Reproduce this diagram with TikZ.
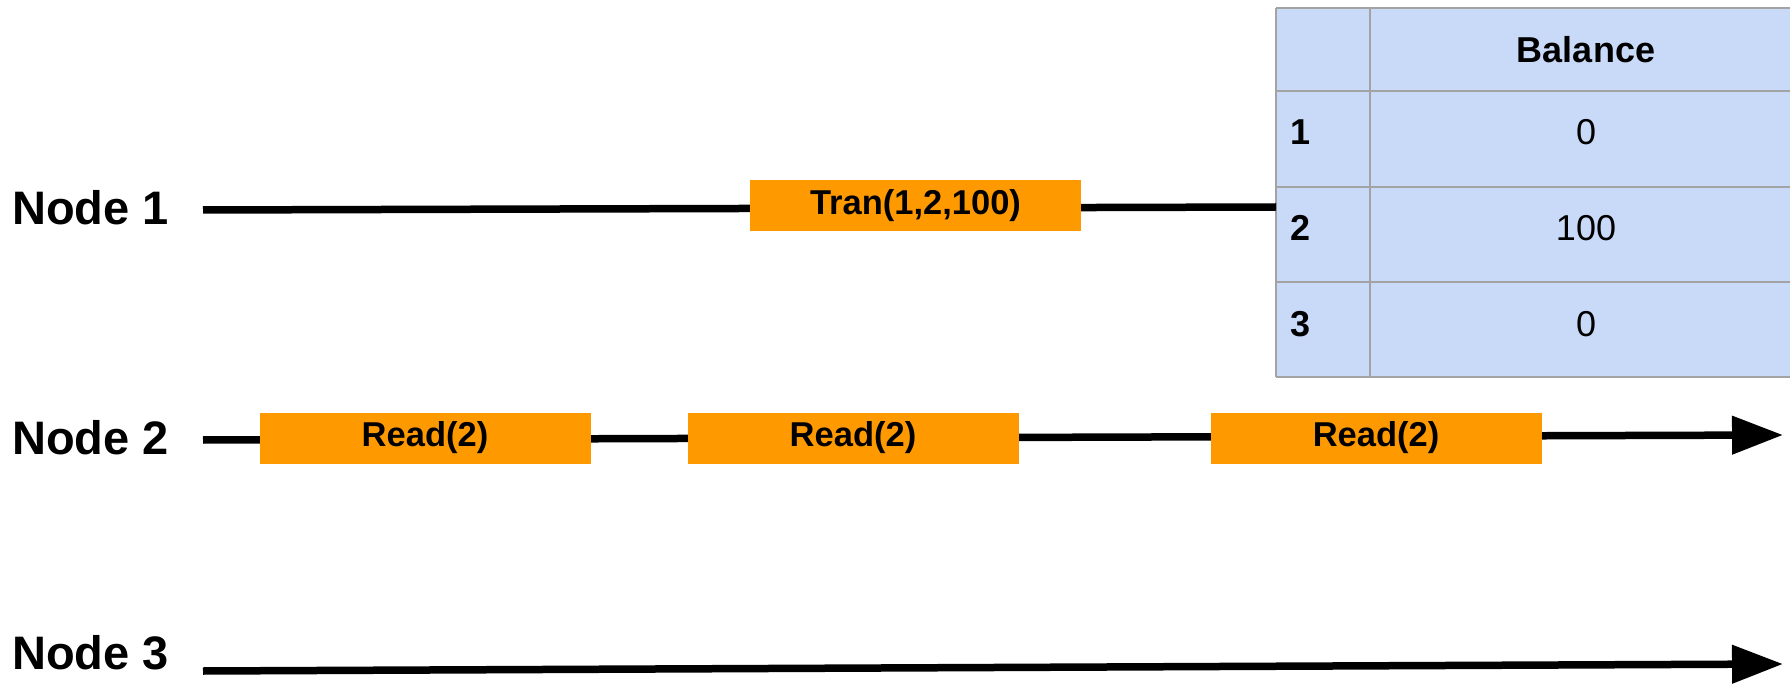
\documentclass[tikz,border=0pt]{standalone}
\usepackage{fontspec}
\setmainfont{Liberation Sans}
\usetikzlibrary{arrows.meta}
\definecolor{boxorange}{HTML}{FF9900}
\definecolor{cellblue}{HTML}{C9DAF8}
\definecolor{gridgray}{HTML}{A3A3A3}

\begin{document}
\begin{tikzpicture}[x=1pt,y=-1pt,
  lane/.style={line width=7.5pt},
  lanearrow/.style={lane,-{Triangle[length=51pt,width=37pt]}},
  opbox/.style={fill=boxorange, inner sep=0pt, minimum width=331pt,
    minimum height=51pt, font=\fontsize{34.5}{40}\selectfont\bfseries},
  lanelabel/.style={anchor=base west, inner sep=0pt,
    font=\fontsize{47}{56}\selectfont\bfseries},
  cellvalue/.style={anchor=base, inner sep=0pt, font=\fontsize{36}{43}\selectfont},
  rowhead/.style={anchor=base west, inner sep=0pt,
    font=\fontsize{36}{43}\selectfont\bfseries},
  gridline/.style={gridgray, line width=2pt}
]
\useasboundingbox (0,0) rectangle (1790,684);

% balance table
\node[fill=cellblue, inner sep=0pt, minimum width=526pt, minimum height=369pt,
      anchor=north west] (tbl) at (1276,8) {};
\foreach \yy in {8,91,187,282,377}
  \draw[gridline] (1276,\yy) -- (1802,\yy);
\draw[gridline] (tbl.north west) -- (tbl.south west);
\draw[gridline] (1370,8) -- (1370,377);

\node[cellvalue, font=\fontsize{36}{43}\selectfont\bfseries] (hbal) at (1586,63) {Balance};
\node[rowhead] (r1) at (1290,145) {1};
\node[rowhead] (r2) at (1290,241) {2};
\node[rowhead] (r3) at (1290,337) {3};
\node[cellvalue] (v1) at (1586,145) {0};
\node[cellvalue] (v2) at (1586,241) {100};
\node[cellvalue] (v3) at (1586,337) {0};

% lane labels
\node[lanelabel] (lbl1) at (12,225) {Node 1};
\node[lanelabel] (lbl2) at (12,454) {Node 2};
\node[lanelabel] (lbl3) at (12,669) {Node 3};

% lane end points
\coordinate (n1s) at (203,210);
\coordinate (n1e) at (1276,207);
\coordinate (n2s) at (203,440);
\coordinate (n2e) at (1783,435);
\coordinate (n3s) at (203,671);
\coordinate (n3e) at (1783,664);

% timelines
\draw[lane] (n1s) -- (n1e);
\draw[lanearrow] (n2s) -- (n2e);
\draw[lanearrow] (n3s) -- (n3e);

% operations on the timelines
\node[opbox] (tran) at (915.5,205.5) {Tran(1,2,100)};
\node[opbox] (read1) at (425,438) {Read(2)};
\node[opbox] (read2) at (853,438) {Read(2)};
\node[opbox] (read3) at (1376,438) {Read(2)};
\end{tikzpicture}
\end{document}
